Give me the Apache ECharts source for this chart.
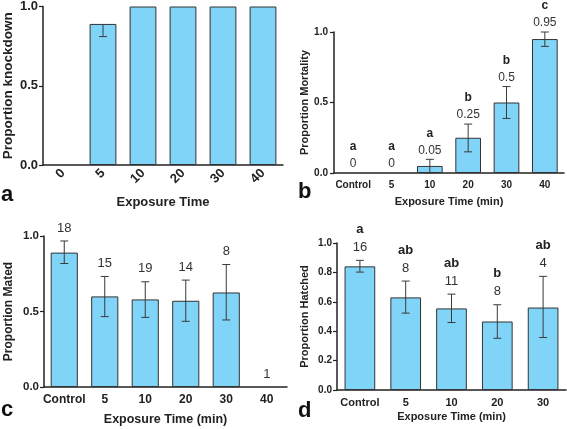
<!DOCTYPE html>
<html><head><meta charset="utf-8">
<script src="https://cdn.jsdelivr.net/npm/echarts@6/dist/echarts.min.js"></script>
<style>html,body{margin:0;padding:0;background:#fff}#c{width:567px;height:429px}</style>
</head><body><div id="c"></div>
<script>
// Panel a
const catsA = ['0','5','10','20','30','40'];
const valsA = [0, 0.89, 1, 1, 1, 1];
const loA = [null, 0.81, null, null, null, null];
const hiA = [null, 0.89, null, null, null, null];
// Panel b
const catsB = ['Control','5','10','20','30','40'];
const valsB = [0, 0, 0.05, 0.25, 0.5, 0.95];
const loB = [null, null, 0, 0.15, 0.387, 0.898];
const hiB = [null, null, 0.097, 0.347, 0.613, 1.0];
const numB = ['0','0','0.05','0.25','0.5','0.95'];
const letB = ['a','a','a','b','b','c'];
// Panel c
const catsC = ['Control','5','10','20','30','40'];
const valsC = [0.89, 0.60, 0.58, 0.571, 0.626, 0];
const loC = [0.818, 0.466, 0.461, 0.435, 0.444, null];
const hiC = [0.967, 0.732, 0.697, 0.708, 0.811, null];
const numC = ['18','15','19','14','8','1'];
// Panel d
const catsD = ['Control','5','10','20','30'];
const valsD = [0.841, 0.63, 0.555, 0.466, 0.561];
const loD = [0.802, 0.523, 0.459, 0.352, 0.357];
const hiD = [0.882, 0.741, 0.652, 0.58, 0.773];
const numD = ['16','8','11','8','4'];
const letD = ['a','ab','ab','b','ab'];

const FONT = 'Liberation Sans, Arial, sans-serif';
const BAR = '#80d4f8';
const INK = '#222';

function xAxis(idx, cats, fs, name, nameGap, nameFs, rotate) {
  return {
    type: 'category', gridIndex: idx, data: cats,
    axisLine: {lineStyle: {color: INK, width: 1.5}},
    axisTick: {alignWithLabel: true, length: 4, lineStyle: {color: INK, width: 1.2}},
    axisLabel: {color: INK, fontWeight: 'bold', fontSize: fs, fontFamily: FONT, margin: rotate ? 6 : 7, rotate: rotate || 0, interval: 0},
    name: name, nameLocation: 'middle', nameGap: nameGap,
    nameTextStyle: {color: INK, fontWeight: 'bold', fontSize: nameFs, fontFamily: FONT}
  };
}
function yAxis(idx, interval, fs, name, nameGap, nameFs, margin) {
  return {
    type: 'value', gridIndex: idx, min: 0, max: 1, interval: interval,
    axisLine: {show: true, lineStyle: {color: INK, width: 1.5}},
    axisTick: {show: true, length: 4, lineStyle: {color: INK, width: 1.2}},
    splitLine: {show: false},
    axisLabel: {color: INK, fontWeight: 'bold', fontSize: fs, fontFamily: FONT, margin: margin,
      formatter: v => v.toFixed(1)},
    name: name, nameLocation: 'middle', nameGap: nameGap, nameRotate: 90,
    nameTextStyle: {color: INK, fontWeight: 'bold', fontSize: nameFs, fontFamily: FONT}
  };
}
function bar(idx, vals) {
  return {
    type: 'bar', xAxisIndex: idx, yAxisIndex: idx, barCategoryGap: '33%',
    data: vals.map(v => v === 0 ? {value: 0, itemStyle: {borderWidth: 0}} : v),
    itemStyle: {color: BAR, borderColor: '#333', borderWidth: 1}, silent: true
  };
}
function errSeries(idx, vals, lo, hi, nums, lets, o) {
  return {
    type: 'custom', xAxisIndex: idx, yAxisIndex: idx, clip: false, z: 5, silent: true,
    data: vals.map((v, i) => [i, hi[i] != null ? hi[i] : v]),
    renderItem: function (params, api) {
      const i = params.dataIndex;
      const ch = [];
      const topPt = api.coord([i, api.value(1)]);
      const x = topPt[0];
      if (lo[i] != null && hi[i] != null) {
        const yl = api.coord([i, lo[i]])[1], yh = api.coord([i, hi[i]])[1];
        const st = {stroke: '#3a3a3a', lineWidth: 1};
        ch.push({type: 'line', shape: {x1: x, y1: yl, x2: x, y2: yh}, style: st});
        ch.push({type: 'line', shape: {x1: x - 4, y1: yl, x2: x + 4, y2: yl}, style: st});
        if (hi[i] > vals[i]) ch.push({type: 'line', shape: {x1: x - 4, y1: yh, x2: x + 4, y2: yh}, style: st});
      }
      const yTop = topPt[1];
      if (nums) ch.push({type: 'text', style: {text: nums[i], x: x, y: yTop - o.numGap, align: 'center', verticalAlign: 'middle',
        fill: '#333', font: o.numFs + 'px ' + FONT}});
      if (lets) ch.push({type: 'text', style: {text: lets[i], x: x, y: yTop - o.numGap - o.letGap, align: 'center', verticalAlign: 'middle',
        fill: INK, font: 'bold ' + o.letFs + 'px ' + FONT}});
      return {type: 'group', children: ch};
    }
  };
}

const chart = echarts.init(document.getElementById('c'), null, {renderer: 'canvas'});
chart.setOption({
  animation: false,
  grid: [
    {left: 42, right: 284, top: 5, bottom: 264},
    {left: 334, right: 3, top: 32, bottom: 256},
    {left: 44, right: 280, top: 236, bottom: 42},
    {left: 337, right: 1, top: 243, bottom: 39}
  ],
  xAxis: [
    xAxis(0, catsA, 13, 'Exposure Time', 31, 13, 45),
    xAxis(1, catsB, 10, 'Exposure Time (min)', 23, 11),
    xAxis(2, catsC, 12, 'Exposure Time (min)', 26, 12.5),
    xAxis(3, catsD, 11, 'Exposure Time (min)', 21, 11)
  ],
  yAxis: [
    yAxis(0, 0.5, 13, 'Proportion knockdown', 28, 13.5, 5),
    yAxis(1, 0.5, 10, 'Proportion Mortality', 24, 11, 6),
    yAxis(2, 0.5, 11.5, 'Proportion Mated', 29, 12, 5),
    yAxis(3, 0.2, 10, 'Proportion Hatched', 27, 11, 5)
  ],
  series: [
    bar(0, valsA), errSeries(0, valsA, loA, hiA, null, null, {}),
    bar(1, valsB), errSeries(1, valsB, loB, hiB, numB, letB, {numGap: 9, numFs: 12, letGap: 17, letFs: 12}),
    bar(2, valsC), errSeries(2, valsC, loC, hiC, numC, null, {numGap: 13, numFs: 13}),
    bar(3, valsD), errSeries(3, valsD, loD, hiD, numD, letD, {numGap: 13, numFs: 13, letGap: 18, letFs: 13})
  ],
  graphic: [
    {type: 'text', left: 1, top: 184, style: {text: 'a', font: 'bold 22px ' + FONT, fill: '#111'}},
    {type: 'text', left: 298, top: 181, style: {text: 'b', font: 'bold 22px ' + FONT, fill: '#111'}},
    {type: 'text', left: 1, top: 399, style: {text: 'c', font: 'bold 22px ' + FONT, fill: '#111'}},
    {type: 'text', left: 298, top: 400, style: {text: 'd', font: 'bold 22px ' + FONT, fill: '#111'}}
  ]
});
</script></body></html>
